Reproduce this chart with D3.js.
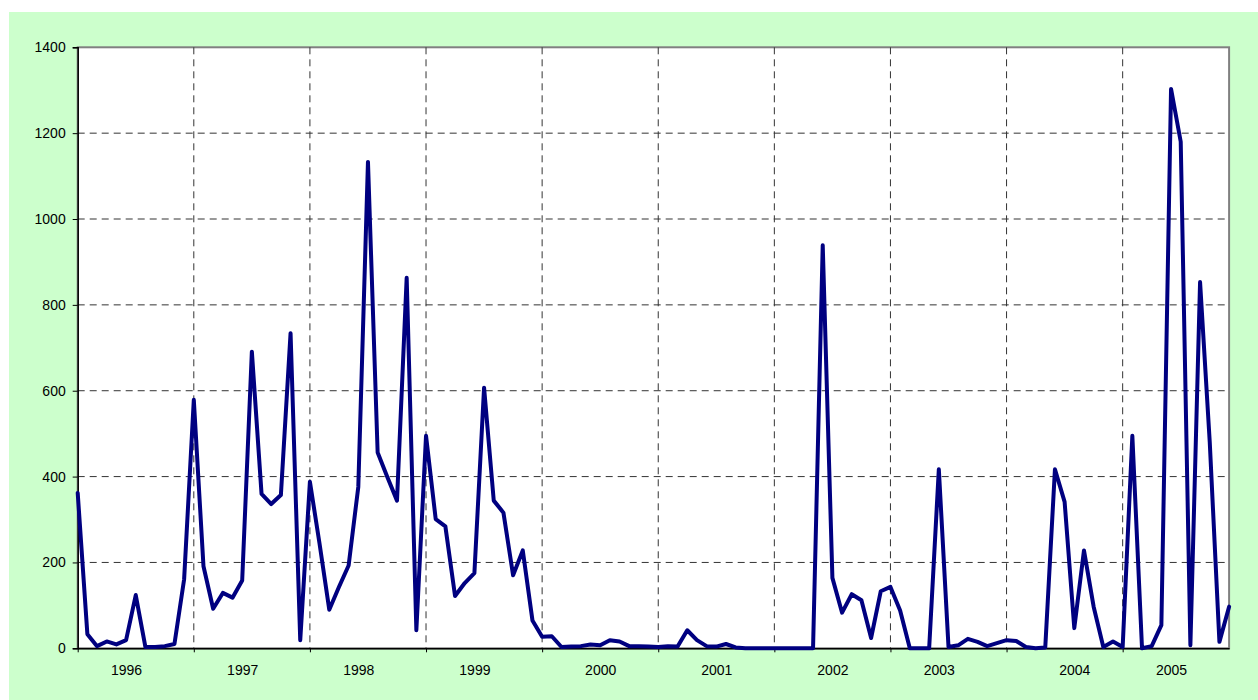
<!DOCTYPE html>
<html>
<head>
<meta charset="utf-8">
<script src="https://cdn.jsdelivr.net/npm/d3@7"></script>
<style>
    body { margin: 0; background: #fff; }
    .axis text { font-family: "Liberation Sans", Arial, sans-serif; font-size: 14px; fill: #000; }
    .axis path, .axis line { stroke: #000; }
</style>
</head>
<body>
<div id="root"></div>
<script>
"use strict";

/* ************************************* Data ******************************** */

// Monthly values, 120 points
const values = [
    362, 33, 5, 16, 9, 19, 124, 3, 3, 5, 10, 161,
    579, 191, 92, 129, 118, 158, 691, 360, 336, 357, 734, 19,
    388, 243, 90, 143, 193, 376, 1133, 456, 399, 344, 863, 42,
    495, 301, 284, 122, 152, 175, 607, 344, 316, 170, 228, 65,
    27, 28, 3, 4, 5, 9, 7, 19, 16, 5, 5, 4,
    3, 5, 4, 42, 19, 5, 4, 10, 2, 0, 0, 0,
    0, 0, 0, 0, 0, 939, 164, 83, 126, 112, 24, 133,
    143, 88, 0, 0, 0, 417, 3, 7, 22, 15, 5, 12,
    19, 17, 3, 0, 2, 417, 341, 47, 228, 97, 3, 16,
    3, 495, 0, 5, 54, 1303, 1180, 7, 853, 480, 15, 97
];

// Year labels and the category each one sits on
const yearLabels = ["1996", "1997", "1998", "1999", "2000", "2001", "2002", "2003", "2004", "2005"];
const yearLabelPos = [5, 17, 29, 41, 54, 66, 78, 89, 103, 113];

// Tick marks / vertical gridlines every 12 categories
const xTicks = [0, 12, 24, 36, 48, 60, 72, 84, 96, 108];
const yTicks = [0, 200, 400, 600, 800, 1000, 1200, 1400];

// Category labels: blank except where a year is written
const categories = values.map((d, i) => {
    let k = yearLabelPos.indexOf(i);
    return k >= 0 ? yearLabels[k] : "";
});

/* ************************************* Set up ******************************** */

const width = 1258;
const height = 700;

const plot = { left: 77.7, top: 47.3, right: 1229.1, bottom: 648.3 };

let svg = d3.select('#root')
    .append('svg')
    .attr('width', width)
    .attr('height', height);

// Light green chart area
svg.append('rect')
    .attr('x', 9)
    .attr('y', 12)
    .attr('width', width - 9)
    .attr('height', height - 12)
    .attr('fill', '#ccffcc');

// White plot area with grey border
svg.append('rect')
    .attr('x', plot.left)
    .attr('y', plot.top)
    .attr('width', plot.right - plot.left)
    .attr('height', plot.bottom - plot.top)
    .attr('fill', '#fff')
    .attr('stroke', '#808080')
    .attr('stroke-width', 2);

/* ************************************* Scales ******************************** */

let xScale = d3.scaleLinear()
    .domain([0, values.length - 1])
    .range([plot.left, plot.right]);

let yScale = d3.scaleLinear()
    .domain([0, 1400])
    .range([plot.bottom, plot.top]);

/* ************************************* Gridlines ******************************** */

svg.append('g')
    .selectAll('line')
    .data(yTicks.filter(d => d > 0 && d < 1400))
    .enter().append('line')
    .attr('x1', plot.left)
    .attr('x2', plot.right)
    .attr('y1', d => yScale(d))
    .attr('y2', d => yScale(d))
    .attr('stroke', '#333')
    .attr('stroke-dasharray', '7,5');

svg.append('g')
    .selectAll('line')
    .data(xTicks.filter(d => d > 0))
    .enter().append('line')
    .attr('x1', d => xScale(d))
    .attr('x2', d => xScale(d))
    .attr('y1', plot.top)
    .attr('y2', plot.bottom)
    .attr('stroke', '#333')
    .attr('stroke-dasharray', '7,5');

/* ************************************* Axes ******************************** */

let yAxis = d3.axisLeft(yScale)
    .tickValues(yTicks)
    .tickSize(5)
    .tickPadding(7)
    .tickFormat(d3.format('d'));

svg.append('g')
    .attr('class', 'axis')
    .attr('transform', `translate(${plot.left},0)`)
    .call(yAxis)
    .call(g => g.select('.domain').attr('stroke-width', 1.5));

// Tick marks only
let xAxis = d3.axisBottom(xScale)
    .tickValues(xTicks)
    .tickSize(4)
    .tickSizeOuter(0)
    .tickFormat('');

svg.append('g')
    .attr('class', 'axis')
    .attr('transform', `translate(0,${plot.bottom})`)
    .call(xAxis)
    .call(g => g.select('.domain').attr('stroke-width', 1.5));

// Year labels
let xLabels = d3.axisBottom(xScale)
    .tickValues(yearLabelPos)
    .tickSize(0)
    .tickPadding(17)
    .tickFormat(i => categories[i]);

svg.append('g')
    .attr('class', 'axis')
    .attr('transform', `translate(0,${plot.bottom})`)
    .call(xLabels)
    .call(g => g.select('.domain').remove());

/* ************************************* Line ******************************** */

let line = d3.line()
    .x((d, i) => xScale(i))
    .y(d => yScale(d));

svg.append('path')
    .datum(values)
    .attr('d', line)
    .attr('fill', 'none')
    .attr('stroke', '#000080')
    .attr('stroke-width', 4)
    .attr('stroke-linejoin', 'round')
    .attr('stroke-linecap', 'round');
</script>
</body>
</html>
